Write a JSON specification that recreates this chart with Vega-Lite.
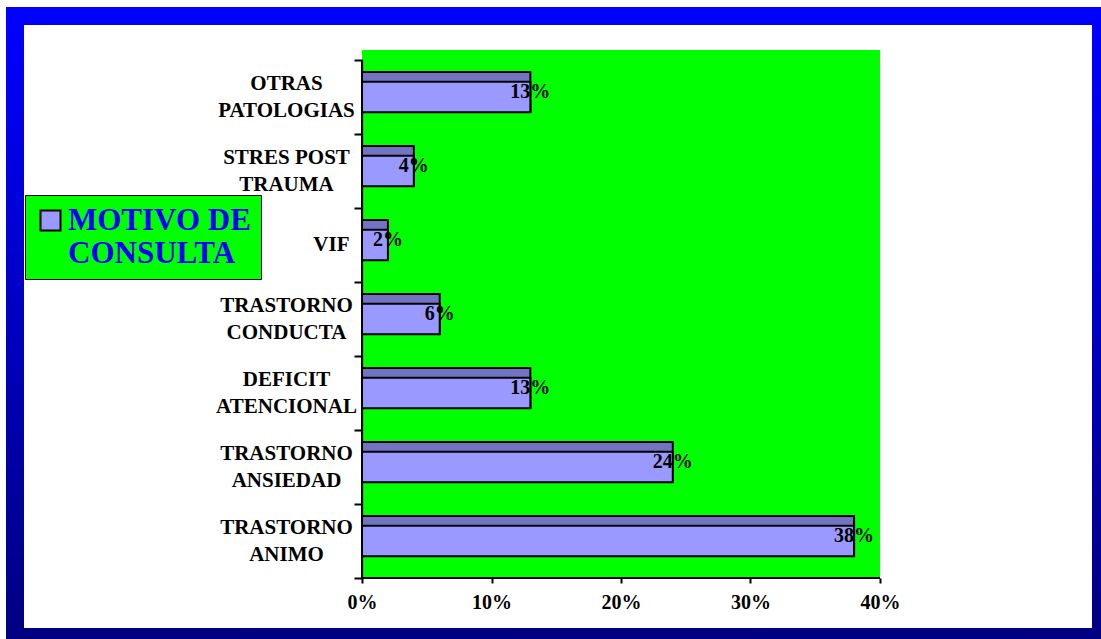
{
  "$schema": "https://vega.github.io/schema/vega-lite/v6.json",
  "width": 1086,
  "height": 621,
  "autosize": {"type": "none"},
  "padding": {"left": 15, "top": 16, "right": 0, "bottom": 2},
  "background": "#ffffff",
  "view": {
    "fill": "#ffffff",
    "strokeWidth": 18,
    "stroke": {"gradient": "linear", "x1": 0, "y1": 0, "x2": 0, "y2": 1,
      "stops": [{"offset": 0, "color": "#0000ff"}, {"offset": 1, "color": "#000080"}]}
  },
  "data": {"values": [
    {"cat": "OTRAS\nPATOLOGIAS", "pct": 0.13, "serie": "MOTIVO DE\nCONSULTA"},
    {"cat": "STRES POST\nTRAUMA", "pct": 0.04, "serie": "MOTIVO DE\nCONSULTA"},
    {"cat": "VIF", "pct": 0.02, "serie": "MOTIVO DE\nCONSULTA"},
    {"cat": "TRASTORNO\nCONDUCTA", "pct": 0.06, "serie": "MOTIVO DE\nCONSULTA"},
    {"cat": "DEFICIT\nATENCIONAL", "pct": 0.13, "serie": "MOTIVO DE\nCONSULTA"},
    {"cat": "TRASTORNO\nANSIEDAD", "pct": 0.24, "serie": "MOTIVO DE\nCONSULTA"},
    {"cat": "TRASTORNO\nANIMO", "pct": 0.38, "serie": "MOTIVO DE\nCONSULTA"}
  ]},
  "encoding": {
    "y": {
      "field": "cat", "type": "nominal",
      "scale": {
        "domain": ["OTRAS\nPATOLOGIAS", "STRES POST\nTRAUMA", "VIF", "TRASTORNO\nCONDUCTA", "DEFICIT\nATENCIONAL", "TRASTORNO\nANSIEDAD", "TRASTORNO\nANIMO"],
        "paddingInner": 0, "paddingOuter": 0.696, "align": 0.427
      },
      "axis": {
        "title": null, "offset": -347, "domain": false,
        "tickBand": "extent", "tickSize": 8, "tickWidth": 2, "tickColor": "#000000",
        "labelExpr": "datum.value ? split(datum.value, '\\n') : ''",
        "labelFont": "Liberation Serif", "labelFontWeight": "bold", "labelFontSize": 21,
        "labelColor": "#000000", "labelLineHeight": 27, "labelBaseline": "middle",
        "labelAlign": {"condition": {"test": "datum.value === 'VIF'", "value": "right"}, "value": "center"},
        "labelPadding": {"condition": {"test": "datum.value === 'VIF'", "value": 5}, "value": 68},
        "labelOffset": {"condition": {"test": "datum.value === 'VIF'", "value": 0}, "value": -13},
        "labelLimit": 300
      }
    }
  },
  "layer": [
    {
      "mark": {"type": "rect", "fill": "#00ff00", "yOffset": -10},
      "encoding": {
        "x": {"datum": 0, "type": "quantitative"},
        "x2": {"datum": 0.4},
        "y": {"datum": "OTRAS\nPATOLOGIAS", "type": "nominal", "bandPosition": 0},
        "y2": {"datum": "TRASTORNO\nANIMO", "bandPosition": 1}
      }
    },
    {
      "mark": {"type": "rule", "stroke": "#000000", "strokeWidth": 2},
      "encoding": {
        "x": {"datum": 0, "type": "quantitative"},
        "x2": {"datum": 0.4},
        "y": {"datum": "TRASTORNO\nANIMO", "type": "nominal", "bandPosition": 1}
      }
    },
    {
      "mark": {"type": "rule", "stroke": "#000000", "strokeWidth": 2},
      "encoding": {
        "x": {"datum": 0, "type": "quantitative"},
        "y": {"datum": "OTRAS\nPATOLOGIAS", "type": "nominal", "bandPosition": 0},
        "y2": {"datum": "TRASTORNO\nANIMO", "bandPosition": 1}
      }
    },
    {
      "mark": {"type": "bar", "fill": "#7373c4", "stroke": "#000000", "strokeWidth": 2, "height": {"band": 0.54}, "yOffset": -5},
      "encoding": {
        "x": {"field": "pct", "type": "quantitative"}
      }
    },
    {
      "mark": {"type": "bar", "stroke": "#000000", "strokeWidth": 2, "height": {"band": 0.41}},
      "encoding": {
        "x": {
          "field": "pct", "type": "quantitative",
          "scale": {"domain": [-0.268, 0.5707], "nice": false, "zero": false},
          "axis": {
            "title": null, "values": [0, 0.1, 0.2, 0.3, 0.4], "format": ".0%",
            "domain": false, "grid": false, "offset": -59,
            "tickSize": 5, "tickWidth": 2, "tickColor": "#000000",
            "labelFont": "Liberation Serif", "labelFontWeight": "bold", "labelFontSize": 20,
            "labelColor": "#000000", "labelPadding": 9, "labelFlush": false
          }
        },
        "fill": {
          "field": "serie", "type": "nominal",
          "scale": {"range": ["#9999ff"]},
          "legend": {
            "title": null, "orient": "none", "legendX": 10, "legendY": 179,
            "fillColor": "#00ff00", "strokeColor": "#000000", "padding": 10,
            "labelFont": "Liberation Serif", "labelFontWeight": "bold", "labelFontSize": 31,
            "labelColor": "#0000ff", "labelLimit": 400, "labelOffset": 2,
            "labelExpr": "split(datum.value, '\\n')",
            "symbolType": "square", "symbolSize": 400,
            "symbolStrokeColor": "#000000", "symbolStrokeWidth": 2, "symbolFillColor": "#9999ff"
          }
        }
      }
    },
    {
      "mark": {"type": "text", "font": "Liberation Serif", "fontWeight": "bold", "fontSize": 20, "color": "#000000", "baseline": "alphabetic", "align": "center", "dy": 1},
      "encoding": {
        "x": {"field": "pct", "type": "quantitative"},
        "text": {"field": "pct", "type": "quantitative", "format": ".0%"}
      }
    }
  ]
}
